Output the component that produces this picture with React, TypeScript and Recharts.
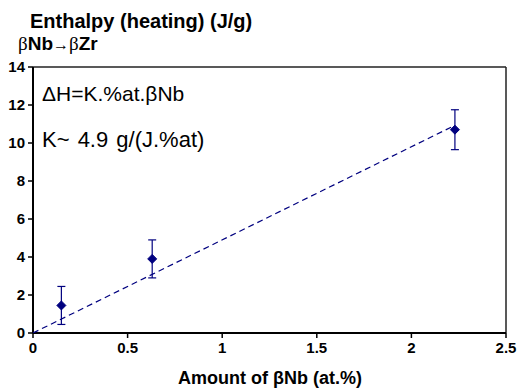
import React from 'react';
import { ScatterChart, Scatter, XAxis, YAxis, ErrorBar, ReferenceLine } from 'recharts';

const amounts = [0.15, 0.63, 2.23];
const enthalpy = [1.45, 3.9, 10.7];
const errors = [1.0, 1.0, 1.05];
const fitX = [0, 2.23];
const fitY = [0, 10.93];
const xTicks = [0, 0.5, 1, 1.5, 2, 2.5];
const yTicks = [0, 2, 4, 6, 8, 10, 12, 14];

const points = amounts.map((x, i) => ({ x, y: enthalpy[i], err: errors[i] }));
const fit = fitX.map((x, i) => ({ x, y: fitY[i] }));

const NAVY = '#00007f';
const FONT = '"Liberation Sans", Arial, Helvetica, sans-serif';

const Diamond = (props: any) => {
  const { cx, cy } = props;
  if (cx == null || cy == null) return null;
  const r = 4.5;
  return <polygon points={`${cx},${cy - r} ${cx + r},${cy} ${cx},${cy + r} ${cx - r},${cy}`} fill={NAVY} stroke={NAVY} />;
};

const NoShape = () => null;

const renderXTick = (props: any) => {
  const { x, y, payload } = props;
  return (
    <text key={`xt-${payload.value}`} className="tk" x={x} y={y + 13} textAnchor="middle" fill="#000" fontSize={15} fontWeight={700} fontFamily={FONT}>
      {payload.value}
    </text>
  );
};

const renderYTick = (props: any) => {
  const { x, y, payload } = props;
  return (
    <text key={`yt-${payload.value}`} className="tk" x={x - 1} y={y + 5} textAnchor="end" fill="#000" fontSize={15} fontWeight={700} fontFamily={FONT}>
      {payload.value}
    </text>
  );
};

const css = `
.recharts-cartesian-axis-tick text { font-weight: 700 !important; fill: #000 !important; font-size: 15px !important; font-family: "Liberation Sans", Arial, sans-serif !important; stroke: #000; stroke-width: 0.35px; }
`;

export default function App() {
  return (
    <div style={{ position: 'absolute', left: 0, top: 0, width: 522, height: 388, background: '#fff', fontFamily: FONT }}>
      <style>{css}</style>
      <ScatterChart width={522} height={388} margin={{ top: 67, right: 16, bottom: 0, left: 0 }}>
        <XAxis
          type="number"
          dataKey="x"
          domain={[0, 2.5]}
          ticks={xTicks}
          interval={0}
          height={55}
          axisLine={{ stroke: '#000', strokeWidth: 2 }}
          tickLine={{ stroke: '#000', strokeWidth: 1.5 }}
          tickSize={5}
          tick={renderXTick}
          allowDataOverflow
        />
        <YAxis
          type="number"
          dataKey="y"
          domain={[0, 14]}
          ticks={yTicks}
          interval={0}
          width={33}
          axisLine={{ stroke: '#000', strokeWidth: 2 }}
          tickLine={{ stroke: '#000', strokeWidth: 1.5 }}
          tickSize={5}
          tick={renderYTick}
          allowDataOverflow
        />
        <ReferenceLine y={14} stroke="#222" strokeWidth={1.5} />
        <ReferenceLine x={2.5} stroke="#222" strokeWidth={1.5} />
        <Scatter
          data={fit}
          line={{ stroke: NAVY, strokeWidth: 1.2, strokeDasharray: '6 4' }}
          shape={NoShape}
          isAnimationActive={false}
        />
        <Scatter data={points} shape={Diamond} fill={NAVY} isAnimationActive={false}>
          <ErrorBar dataKey="err" direction="y" width={4} stroke={NAVY} strokeWidth={1.2} />
        </Scatter>
      </ScatterChart>
      <div style={{ position: 'absolute', left: 30, top: 10, fontSize: 20, fontWeight: 'bold', whiteSpace: 'nowrap', color: '#000' }}>
        Enthalpy (heating) (J/g)
      </div>
      <div style={{ position: 'absolute', left: 18, top: 33, fontSize: 19, whiteSpace: 'nowrap', color: '#000' }}>
        <span style={{ fontFamily: '"Liberation Serif", serif', fontWeight: 'normal' }}>β</span>
        <span style={{ fontWeight: 'bold' }}>Nb</span>
        <span style={{ fontWeight: 'bold', fontSize: 16 }}>→</span>
        <span style={{ fontFamily: '"Liberation Serif", serif', fontWeight: 'normal' }}>β</span>
        <span style={{ fontWeight: 'bold' }}>Zr</span>
      </div>
      <div style={{ position: 'absolute', left: 42, top: 82, fontSize: 21, whiteSpace: 'nowrap', color: '#000' }}>
        ΔH=K.%at.βNb
      </div>
      <div style={{ position: 'absolute', left: 42, top: 127, fontSize: 22, wordSpacing: 2, whiteSpace: 'nowrap', color: '#000' }}>
        K~ 4.9 g/(J.%at)
      </div>
      <div style={{ position: 'absolute', left: 0, width: 540, top: 368, textAlign: 'center', fontSize: 18, fontWeight: 'bold', whiteSpace: 'nowrap', color: '#000' }}>
        Amount of βNb (at.%)
      </div>
    </div>
  );
}
